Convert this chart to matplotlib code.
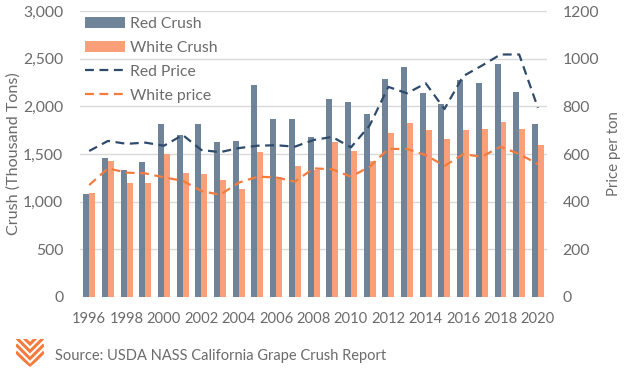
import numpy as np
import matplotlib
matplotlib.use("Agg")
import matplotlib.pyplot as plt
from matplotlib.patches import Polygon

years = list(range(1996, 2021))
red_crush = [1080, 1459, 1333, 1420, 1812, 1703, 1812, 1630, 1637, 2228, 1871, 1871, 1675,
             2074, 2046, 1917, 2287, 2410, 2137, 2030, 2277, 2245, 2445, 2154, 1815]
white_crush = [1095, 1430, 1193, 1193, 1504, 1301, 1291, 1228, 1133, 1518, 1256, 1371, 1336,
               1623, 1535, 1424, 1724, 1826, 1750, 1661, 1749, 1763, 1833, 1758, 1590]
red_price = [613, 655, 643, 648, 635, 680, 617, 608, 625, 635, 637, 631, 659,
             672, 628, 720, 882, 855, 897, 789, 927, 971, 1018, 1018, 794]
white_price = [470, 540, 522, 519, 502, 488, 445, 429, 480, 505, 502, 484, 540,
               536, 505, 547, 622, 621, 596, 550, 599, 589, 631, 600, 558]

plt.rcParams['font.family'] = ['Lato', 'DejaVu Sans']
gray = "#6b6b6b"
c_red_bar = "#6F8499"
c_white_bar = "#F9A07A"
c_red_line = "#2F4B6C"
c_white_line = "#F47B3E"

fig = plt.figure(figsize=(6.24, 3.71), dpi=100)
ax = fig.add_axes([0.128, 0.1995, 0.749, 0.7705])
ax2 = ax.twinx()

x = np.arange(len(years))
w = 0.32
ax.bar(x - w / 2, red_crush, w, color=c_red_bar, label="Red Crush", zorder=2)
ax.bar(x + w / 2, white_crush, w, color=c_white_bar, label="White Crush", zorder=2)
ax2.plot(x, red_price, color=c_red_line, lw=1.6, ls=(0, (4, 2.5)), label="Red Price")
ax2.plot(x, white_price, color=c_white_line, lw=1.6, ls=(0, (4, 2.5)), label="White price")

ax.set_xlim(-0.5, len(years) - 0.5)
ax.set_ylim(0, 3000)
ax2.set_ylim(0, 1200)
ax.set_yticks(range(0, 3001, 500))
ax.set_yticklabels([f"{v:,}" for v in range(0, 3001, 500)])
ax2.set_yticks(range(0, 1201, 200))
ax.set_xticks(x[::2])
ax.set_xticklabels([str(y) for y in years[::2]])

ax.grid(axis="y", color="#D9D9D9", lw=1, zorder=0)
ax.set_axisbelow(True)
for a in (ax, ax2):
    for s in a.spines.values():
        s.set_visible(False)
    a.tick_params(length=0, labelsize=11.3, colors=gray)
ax.tick_params(axis="x", pad=11, labelsize=10.6)
ax.tick_params(axis="y", pad=12)
ax2.tick_params(axis="y", pad=11)

ax.set_ylabel("Crush (Thousand Tons)", fontsize=11.6, color=gray, labelpad=2)
ax2.set_ylabel("Price per ton", fontsize=10.8, color=gray, labelpad=6)

h1, l1 = ax.get_legend_handles_labels()
h2, l2 = ax2.get_legend_handles_labels()
ax2.legend(h1 + h2, l1 + l2, loc="upper left", bbox_to_anchor=(0.0, 1.0), frameon=False,
           fontsize=11.3, labelcolor=gray, handlelength=2.55, handleheight=0.75,
           labelspacing=0.62, handletextpad=0.3, borderaxespad=0.0, borderpad=0.35)

# logo: orange chevron stripes in a box with a pointed bottom
logo_c = "#F47B3E"
lax = fig.add_axes([16 / 624, 1 - 367 / 371, 28 / 624, 28 / 371])
lax.set_xlim(0, 1)
lax.set_ylim(0, 1)
lax.axis("off")
outline = Polygon([(0, 1), (1, 1), (1, 0.4), (0.5, 0), (0, 0.4)], closed=True,
                  transform=lax.transData, facecolor="none", edgecolor="none")
lax.add_patch(outline)
for y0 in (0.04, 0.30, 0.56, 0.82):
    ln, = lax.plot([0, 0.5, 1], [y0 + 0.5, y0, y0 + 0.5], color=logo_c, lw=2.2,
                   solid_joinstyle="miter", solid_capstyle="butt")
    ln.set_clip_path(outline)
fig.text(0.088, 0.041, "Source: USDA NASS California Grape Crush Report",
         fontsize=10.5, color=gray, va="center")

fig.savefig("out.png", dpi=100)
